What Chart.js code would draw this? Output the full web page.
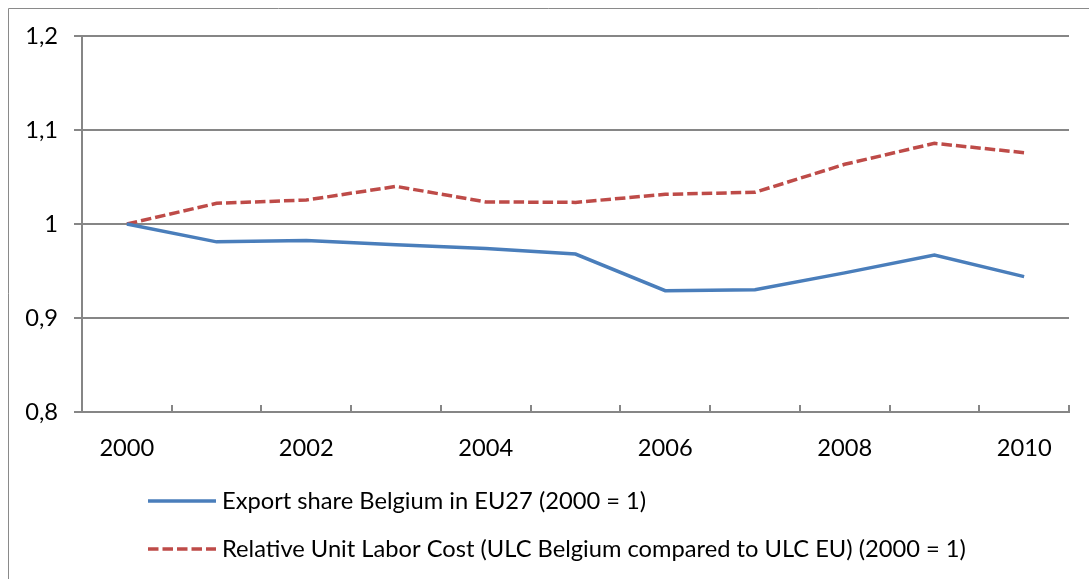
<!DOCTYPE html>
<html>
<head>
<meta charset="utf-8">
<script src="https://cdn.jsdelivr.net/npm/chart.js@4/dist/chart.umd.min.js"></script>
<style>
  html, body { margin: 0; padding: 0; background: #ffffff; }
  #wrap { position: relative; width: 1089px; height: 579px; }
</style>
</head>
<body>
<div id="wrap"><canvas id="c" width="1089" height="579"></canvas></div>
<script>
const years = ['2000','2001','2002','2003','2004','2005','2006','2007','2008','2009','2010'];
const exportShare = [1.000, 0.981, 0.9825, 0.978, 0.974, 0.968, 0.929, 0.930, 0.948, 0.967, 0.944];
const relativeULC = [1.000, 1.022, 1.0255, 1.040, 1.0235, 1.023, 1.0316, 1.0337, 1.0635, 1.0858, 1.0759];
const yTickLabels = ['0,8', '0,9', '1', '1,1', '1,2'];
const seriesLabels = [
  'Export share Belgium in EU27 (2000 = 1)',
  'Relative Unit Labor Cost (ULC Belgium compared to ULC EU) (2000 = 1)'
];

const FONT = 'Lato';
const FONT_SIZE = 23.7;
const AXIS_GRAY = '#868686';

const framePlugin = {
  id: 'frame',
  beforeDraw(chart) {
    const ctx = chart.ctx;
    ctx.save();
    ctx.strokeStyle = '#8a8a8a';
    ctx.lineWidth = 1;
    ctx.beginPath();
    ctx.moveTo(8.5, chart.height);
    ctx.lineTo(8.5, 8.5);
    ctx.lineTo(chart.width, 8.5);
    ctx.stroke();
    ctx.restore();
  }
};

const xTicksPlugin = {
  id: 'xInnerTicks',
  afterDraw(chart) {
    const xs = chart.scales.x;
    const ctx = chart.ctx;
    const bottom = chart.chartArea.bottom;
    const n = years.length;
    const step = xs.getPixelForValue(1) - xs.getPixelForValue(0);
    ctx.save();
    ctx.strokeStyle = AXIS_GRAY;
    ctx.lineWidth = 2;
    ctx.beginPath();
    for (let i = 0; i <= n; i++) {
      const x = Math.round(xs.getPixelForValue(0) - step / 2 + i * step);
      ctx.moveTo(x, bottom);
      ctx.lineTo(x, bottom - 7);
    }
    ctx.stroke();
    ctx.restore();
  }
};

const legendPlugin = {
  id: 'customLegend',
  afterDraw(chart) {
    const ctx = chart.ctx;
    const area = chart.chartArea;
    const x0 = area.left + 66;
    const rows = [area.bottom + 89, area.bottom + 137];
    ctx.save();
    chart.data.datasets.forEach((ds, i) => {
      const y = rows[i];
      ctx.strokeStyle = ds.borderColor;
      ctx.lineWidth = ds.borderWidth;
      ctx.setLineDash(ds.borderDash || []);
      ctx.lineCap = 'butt';
      ctx.beginPath();
      ctx.moveTo(x0, y);
      ctx.lineTo(x0 + 68, y);
      ctx.stroke();
      ctx.setLineDash([]);
      ctx.fillStyle = '#000000';
      ctx.font = FONT_SIZE + 'px ' + FONT;
      ctx.textBaseline = 'middle';
      ctx.textAlign = 'left';
      ctx.fillText(ds.label, x0 + 74, y);
    });
    ctx.restore();
  }
};

new Chart(document.getElementById('c'), {
  type: 'line',
  data: {
    labels: years,
    datasets: [
      {
        label: seriesLabels[0],
        data: exportShare,
        borderColor: '#4A7EBB',
        backgroundColor: '#4A7EBB',
        borderWidth: 3.5,
        pointRadius: 0,
        tension: 0,
        fill: false
      },
      {
        label: seriesLabels[1],
        data: relativeULC,
        borderColor: '#BE4B48',
        backgroundColor: '#BE4B48',
        borderWidth: 3.5,
        borderDash: [10.5, 4],
        pointRadius: 0,
        tension: 0,
        fill: false
      }
    ]
  },
  options: {
    responsive: false,
    animation: false,
    devicePixelRatio: 1,
    layout: { padding: { left: 10, right: 20, top: 36, bottom: 117 } },
    plugins: {
      legend: { display: false },
      tooltip: { enabled: false }
    },
    scales: {
      x: {
        type: 'category',
        offset: true,
        grid: { display: false },
        border: { display: true, color: AXIS_GRAY, width: 2 },
        ticks: {
          autoSkip: false,
          maxRotation: 0,
          color: '#000000',
          font: { family: FONT, size: FONT_SIZE },
          padding: 14,
          callback: (v, i) => (i % 2 === 0 ? years[i] : '')
        },
        afterFit(scale) { scale.height = 50; scale.paddingLeft = 0; scale.paddingRight = 0; }
      },
      y: {
        min: 0.8,
        max: 1.2,
        grid: {
          color: AXIS_GRAY,
          lineWidth: 2,
          drawTicks: true,
          tickLength: 8,
          tickColor: AXIS_GRAY
        },
        border: { display: true, color: AXIS_GRAY, width: 2 },
        ticks: {
          stepSize: 0.1,
          color: '#000000',
          font: { family: FONT, size: FONT_SIZE },
          padding: 16,
          callback: (v) => {
            const idx = Math.round((v - 0.8) / 0.1);
            return yTickLabels[idx];
          }
        },
        afterFit(scale) { scale.width = 72; scale.paddingTop = 0; scale.paddingBottom = 0; }
      }
    }
  },
  plugins: [framePlugin, xTicksPlugin, legendPlugin]
});
</script>
</body>
</html>
